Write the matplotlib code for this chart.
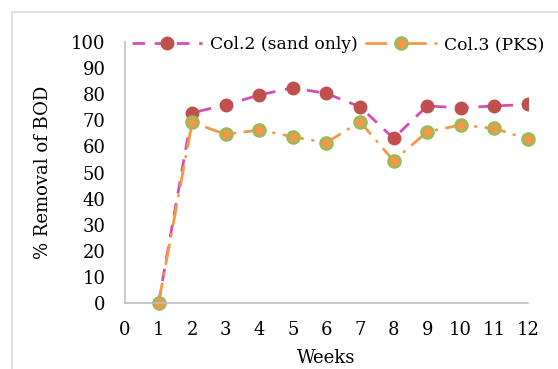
import matplotlib
matplotlib.use("Agg")
import matplotlib.pyplot as plt
from matplotlib.patches import Rectangle

weeks = [1, 2, 3, 4, 5, 6, 7, 8, 9, 10, 11, 12]
col2_sand = [0, 72.9, 75.9, 79.7, 82.5, 80.3, 75.2, 63.1, 75.5, 74.8, 75.5, 76.1]
col3_pks = [0, 69.2, 64.6, 66.3, 63.7, 61.4, 69.5, 54.5, 65.6, 68.2, 66.9, 62.8]

plt.rcParams['font.family'] = ['DejaVu Serif']

fig = plt.figure(figsize=(5.58, 3.69), dpi=100)
ax = fig.add_axes([0.224, 0.179, 0.722, 0.707])

# outer chart border
fig.patches.append(Rectangle((12 / 558, -0.1), 1.2, 1 - 12 / 369 + 0.1,
                             transform=fig.transFigure, fill=False,
                             edgecolor='#d9d9d9', linewidth=1.2))

ax.plot(weeks, col2_sand, color='#d44fb4', linewidth=2.0,
        linestyle=(0, (4.5, 3.5)), marker='o', markersize=9,
        markerfacecolor='#c0504d', markeredgecolor='#c0504d',
        label='Col.2 (sand only)')
ax.plot(weeks, col3_pks, color='#f79646', linewidth=2.0,
        linestyle=(0, (7, 3.5, 0.3, 3.5)), dash_capstyle='round',
        marker='o', markersize=8.5, markerfacecolor='#f79646',
        markeredgecolor='#9bbb59', markeredgewidth=2,
        label='Col.3 (PKS)', clip_on=False)

ax.set_xlim(0, 12)
ax.set_ylim(0, 100)
ax.set_xticks(range(0, 13))
ax.set_yticks(range(0, 101, 10))
ax.tick_params(axis='y', length=0, labelsize=13, pad=14)
ax.tick_params(axis='x', length=0, labelsize=13, pad=13)
for s in ['top', 'right']:
    ax.spines[s].set_visible(False)
for s in ['left', 'bottom']:
    ax.spines[s].set_color('#bfbfbf')
    ax.spines[s].set_linewidth(1.2)

ax.set_xlabel('Weeks', fontsize=13, labelpad=7)
ax.set_ylabel('% Removal of BOD', fontsize=13, labelpad=14)

ax.legend(loc='center left', bbox_to_anchor=(0.0, 0.99), ncol=2,
          frameon=False, fontsize=12.3, handlelength=4.1,
          columnspacing=0.5, handletextpad=0.45, borderaxespad=0)

fig.savefig('out.png', dpi=100)
